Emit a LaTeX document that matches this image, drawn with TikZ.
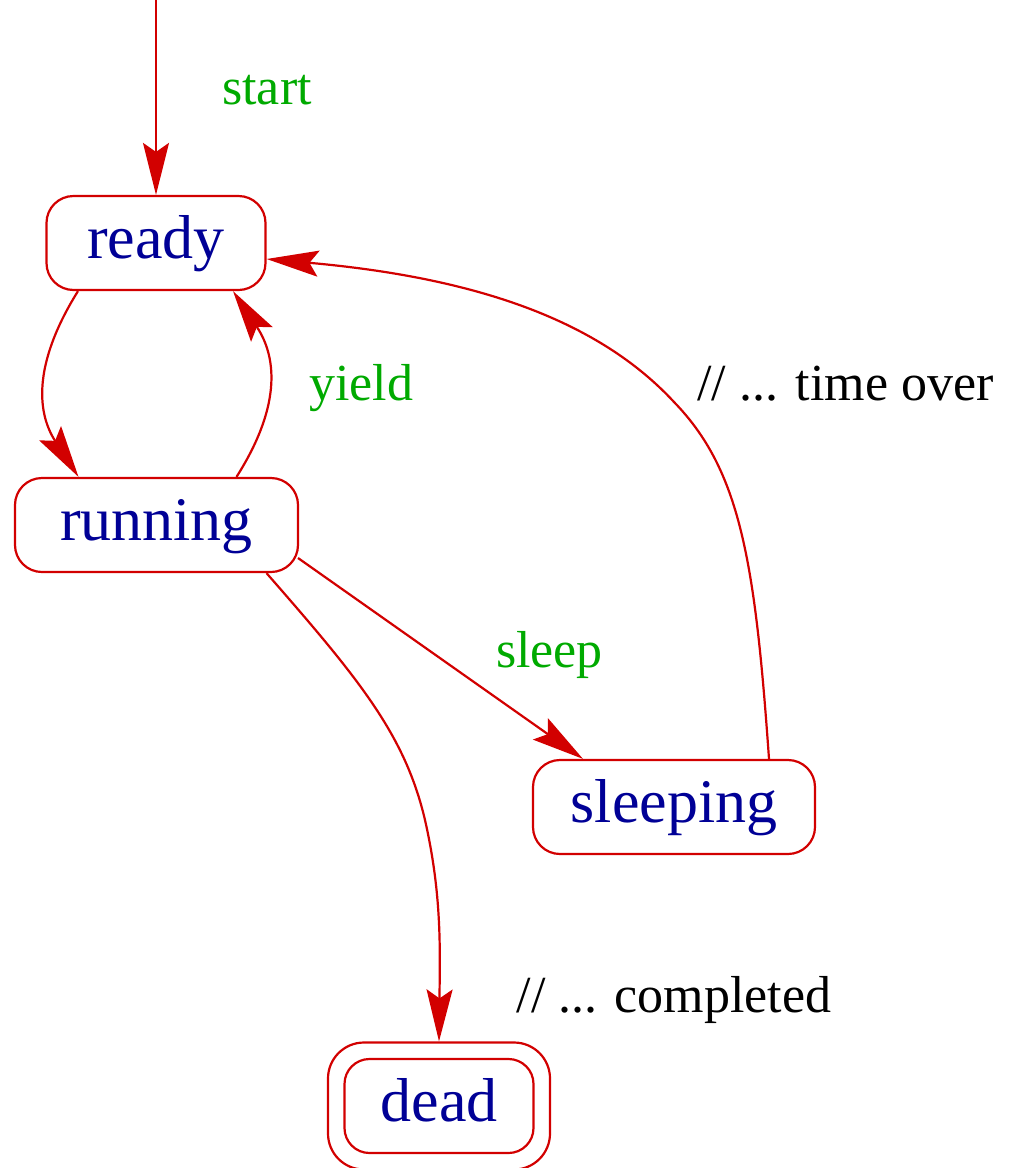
\documentclass[tikz,border=0pt]{standalone}
\usepackage{fontspec}
\setmainfont{Liberation Serif}
\usetikzlibrary{arrows.meta,calc}
\definecolor{edgered}{RGB}{210,0,0}
\definecolor{statename}{RGB}{0,0,150}
\definecolor{evgreen}{RGB}{0,170,0}
\begin{document}
\begin{tikzpicture}[x=1pt,y=-1pt,
  state/.style={draw=edgered, line width=2.2pt, rounded corners=27pt, minimum height=94pt,
    inner sep=0pt, text=statename, font=\fontsize{62}{70}\selectfont,
    text height=40pt, text depth=10pt},
  rim/.style={draw=edgered, line width=2.2pt, inner sep=0pt},
  trans/.style={draw=edgered, line width=2.2pt, -{Stealth[length=52pt,width=26pt,inset=9pt]}},
  ev/.style={text=evgreen, font=\fontsize{52}{60}\selectfont, anchor=base, inner sep=0pt},
  note/.style={text=black, font=\fontsize{52}{60}\selectfont, anchor=base, inner sep=0pt}]
\useasboundingbox (0,0) rectangle (1021,1168);

% states
\node[state, minimum width=219pt] (ready) at (156,243) {ready};
\node[state, minimum width=283pt] (running) at (156.5,525) {running};
\node[state, minimum width=282pt] (sleeping) at (674,807) {sleeping};
\node[state, minimum width=189pt, rounded corners=25pt] (dead) at (439,1106) {dead};
\node[rim, rounded corners=36pt, minimum width=222pt, minimum height=127pt] (deadrim) at (dead.center) {};

% initial arrow
\coordinate (init) at (156,0);
\draw[trans] (init) -- (ready.north);

% ready -> running
\draw[trans] ($(ready.south)+(-78,0)$) .. controls (35,360) and (35,410) .. ($(running.north)+(-78,0)$);
% running -> ready (yield)
\draw[trans] ($(running.north)+(80,0)$) .. controls (279,410) and (279,360) .. ($(ready.south)+(77,0)$);
% running -> sleeping
\draw[trans] ($(running.center)+(141.5,33)$) -- ($(sleeping.north)+(-91,0)$);
% sleeping -> ready (time over)
\draw[trans] ($(sleeping.north)+(95,0)$) .. controls (755,560) and (740,470) .. (674,402)
  .. controls (600,322) and (480,278) .. ($(ready.east)+(0,16)$);
% running -> dead
\draw[trans] ($(running.south)+(110,0)$) .. controls (360,680) and (405,735) .. (425,820)
  .. controls (442,895) and (440,950) .. (deadrim.north);

% labels
\node[ev] (lstart) at (267,104) {start};
\node[ev] (lyield) at (361,400) {yield};
\node[ev] (lsleep) at (549.5,667) {sleep};
\node[note] (ltime) at (845.5,400) {// ... time over};
\node[note] (lcompl) at (674,1012) {// ... completed};
\end{tikzpicture}
\end{document}
